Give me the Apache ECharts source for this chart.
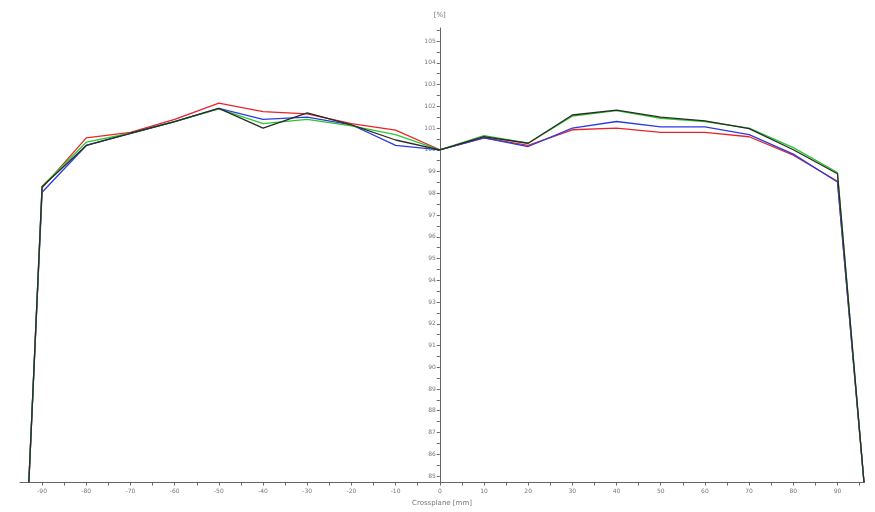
<!DOCTYPE html>
<html>
<head>
<meta charset="utf-8">
<script src="https://cdn.jsdelivr.net/npm/echarts@6/dist/echarts.min.js"></script>
<style>html,body{margin:0;padding:0;background:#fff}#c{width:875px;height:512px}</style>
</head>
<body>
<div id="c"></div>
<script>
var positions = [-93, -90, -80, -70, -60, -50, -40, -30, -20, -10, 0, 10, 20, 30, 40, 50, 60, 70, 80, 90, 96];
var redValues   = [84.7, 98.25, 100.55, 100.8, 101.4, 102.15, 101.75, 101.65, 101.2, 100.9, 100, 100.55, 100.2, 100.92, 101.0, 100.8, 100.8, 100.6, 99.75, 98.55, 84.7];
var blueValues  = [84.7, 98.05, 100.2, 100.76, 101.3, 101.9, 101.4, 101.5, 101.15, 100.2, 100, 100.55, 100.15, 101.0, 101.3, 101.05, 101.05, 100.7, 99.8, 98.52, 84.7];
var greenValues = [84.7, 98.32, 100.35, 100.76, 101.3, 101.88, 101.2, 101.4, 101.1, 100.7, 100, 100.65, 100.3, 101.55, 101.8, 101.45, 101.3, 101.0, 100.1, 98.95, 84.7];
var blackValues = [84.7, 98.3, 100.2, 100.76, 101.3, 101.9, 101.0, 101.7, 101.15, 100.45, 100, 100.6, 100.3, 101.6, 101.82, 101.5, 101.33, 100.97, 100.0, 98.9, 84.7];
var xLabelValues = [-90, -80, -70, -60, -50, -40, -30, -20, -10, 0, 10, 20, 30, 40, 50, 60, 70, 80, 90];
var xTickValues = [-90, -85, -80, -75, -70, -65, -60, -55, -50, -45, -40, -35, -30, -25, -20, -15, -10, -5, 0, 5, 10, 15, 20, 25, 30, 35, 40, 45, 50, 55, 60, 65, 70, 75, 80, 85, 90, 95];
var yLabelValues = [85, 86, 87, 88, 89, 90, 91, 92, 93, 94, 95, 96, 97, 98, 99, 100, 101, 102, 103, 104, 105];
var yTickValues = [85, 85.5, 86, 86.5, 87, 87.5, 88, 88.5, 89, 89.5, 90, 90.5, 91, 91.5, 92, 92.5, 93, 93.5, 94, 94.5, 95, 95.5, 96, 96.5, 97, 97.5, 98, 98.5, 99, 99.5, 100, 100.5, 101, 101.5, 102, 102.5, 103, 103.5, 104, 104.5, 105, 105.5];

function pairs(vals) { return positions.map(function (x, i) { return [x, vals[i]]; }); }

var chart = echarts.init(document.getElementById('c'), null, {renderer: 'canvas'});
var lineOpt = function (name, color, vals, z) {
  return {
    name: name, type: 'line', data: pairs(vals), showSymbol: false, symbol: 'none',
    lineStyle: {color: color, width: 1.3}, itemStyle: {color: color}, z: z, animation: false, clip: true
  };
};
var gridLeft = 20, gridRight = 11;
chart.setOption({
  animation: false,
  backgroundColor: '#fff',
  grid: {left: gridLeft, right: gridRight, top: 28, bottom: 29.5, containLabel: false},
  xAxis: {
    type: 'value', min: -95, max: 96,
    name: 'Crossplane [mm]', nameLocation: 'middle', nameGap: 17,
    nameTextStyle: {fontSize: 7, color: '#777', fontFamily: 'DejaVu Sans'},
    axisLine: {onZero: false, lineStyle: {color: '#666', width: 1}},
    axisTick: {show: true, inside: false, length: 3, customValues: xTickValues, lineStyle: {color: '#666'}},
    axisLabel: {customValues: xLabelValues, fontSize: 6, color: '#777', margin: 6, fontFamily: 'DejaVu Sans'},
    splitLine: {show: false}
  },
  yAxis: {
    type: 'value', min: 84.7, max: 105.6, position: 'left', offset: 0,
    name: '[%]', nameLocation: 'end', nameGap: 9,
    nameTextStyle: {fontSize: 7, color: '#777', fontFamily: 'DejaVu Sans', align: 'center'},
    axisLine: {onZero: false, lineStyle: {color: '#666', width: 1}},
    axisTick: {show: true, inside: false, length: 3, customValues: yTickValues, lineStyle: {color: '#666'}},
    axisLabel: {customValues: yLabelValues, fontSize: 6, color: '#777', margin: 4, fontFamily: 'DejaVu Sans'},
    splitLine: {show: false}
  },
  series: [
    lineOpt('red', '#e8242a', redValues, 2),
    lineOpt('blue', '#2b3be0', blueValues, 3),
    lineOpt('green', '#2dc82d', greenValues, 4),
    lineOpt('black', '#2a2a2a', blackValues, 5)
  ]
});
var zeroPx = chart.convertToPixel({xAxisIndex: 0}, 0);
chart.setOption({yAxis: {offset: -(zeroPx - gridLeft)}});
</script>
</body>
</html>
